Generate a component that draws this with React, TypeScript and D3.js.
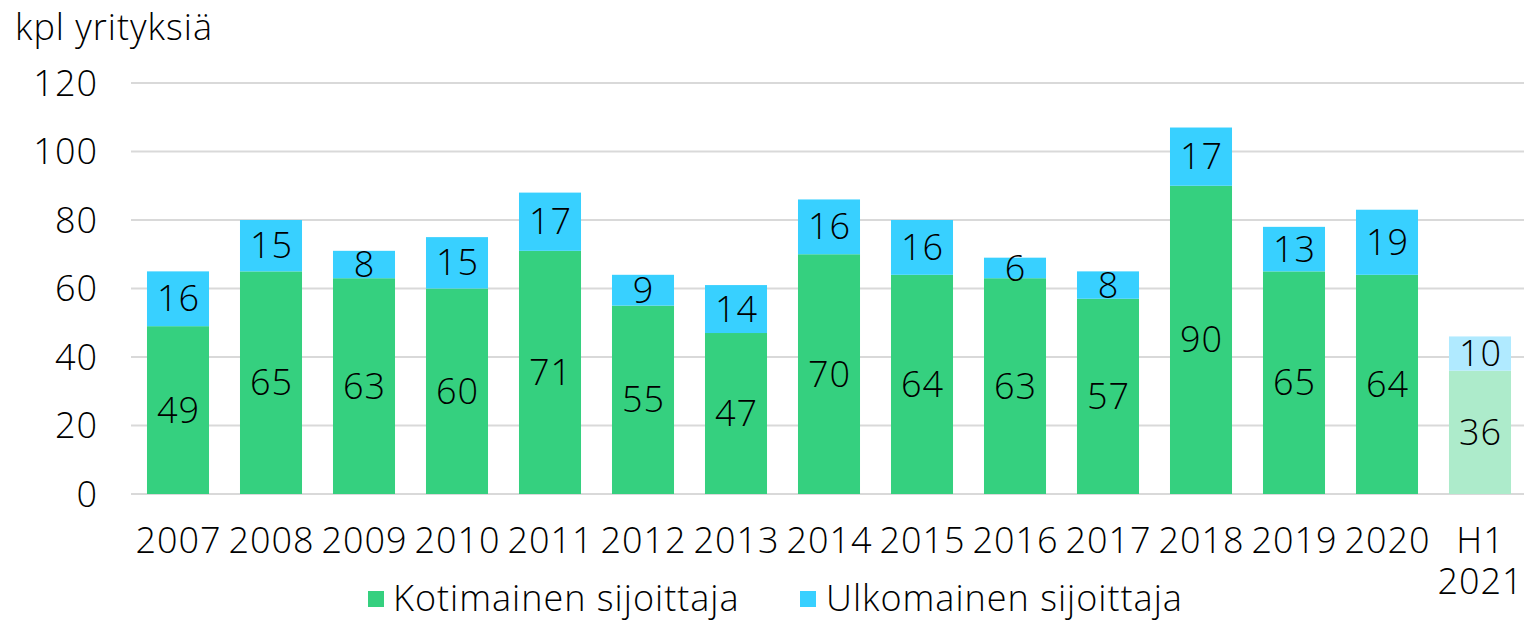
import React from "react";
import * as d3 from "d3";

const categories = ["2007","2008","2009","2010","2011","2012","2013","2014","2015","2016","2017","2018","2019","2020","H1\n2021"];
const domestic = [49,65,63,60,71,55,47,70,64,63,57,90,65,64,36];
const foreign = [16,15,8,15,17,9,14,16,16,6,8,17,13,19,10];
const yTicks = [0,20,40,60,80,100,120];
const seriesNames = ["Kotimainen sijoittaja","Ulkomainen sijoittaja"];
const yTitle = "kpl yrityksiä";

const W = 1524, H = 621;
const FONT = "'Open Sans', Lato, sans-serif";
const FS = 36;
const FW = 300;
const LS = 1;
const GREEN = "#35D07F", BLUE = "#38D0FF";
const GREEN_L = "#ADEBCB", BLUE_L = "#B0EAFF";

export default function App() {
  const x = d3.scaleBand().domain(categories).range([131.5, 1526.5]).paddingInner(0.333).paddingOuter(0.1665);
  const y = d3.scaleLinear().domain([0, 120]).range([494, 83]);
  return (
    <svg width={W} height={H} style={{ position: "absolute", left: 0, top: 0, background: "#fff" }} fontFamily={FONT} fontWeight={FW} letterSpacing={LS}>
      <text x={15} y={40} fontSize={FS} fill="#000">{yTitle}</text>
      {yTicks.map(t => (
        <g key={t}>
          <line x1={131} x2={1524} y1={y(t)} y2={y(t)} stroke="#D9D9D9" strokeWidth={2} />
          <text x={98} y={y(t)} dy="0.35em" textAnchor="end" fontSize={FS}>{t}</text>
        </g>
      ))}
      {categories.map((c, i) => {
        const last = i === categories.length - 1;
        const bx = x(c)!, bw = x.bandwidth();
        const cx = bx + bw / 2 + LS / 2;
        const d = domestic[i], f = foreign[i];
        return (
          <g key={c}>
            <rect x={bx} width={bw} y={y(d)} height={y(0) - y(d)} fill={last ? GREEN_L : GREEN} />
            <rect x={bx} width={bw} y={y(d + f)} height={y(d) - y(d + f)} fill={last ? BLUE_L : BLUE} />
            <text x={cx} y={(y(0) + y(d)) / 2} dy="0.35em" textAnchor="middle" fontSize={FS}>{d}</text>
            <text x={cx} y={(y(d) + y(d + f)) / 2} dy="0.35em" textAnchor="middle" fontSize={FS}>{f}</text>
            {c.split("\n").map((ln, j) => (
              <text key={j} x={cx} y={540 + j * 41} dy="0.35em" textAnchor="middle" fontSize={FS}>{ln}</text>
            ))}
          </g>
        );
      })}
      <rect x={368} y={591} width={16} height={16} fill={GREEN} />
      <text x={393} y={598} dy="0.35em" fontSize={FS}>{seriesNames[0]}</text>
      <rect x={800} y={591} width={16} height={16} fill={BLUE} />
      <text x={826} y={598} dy="0.35em" fontSize={FS}>{seriesNames[1]}</text>
    </svg>
  );
}
